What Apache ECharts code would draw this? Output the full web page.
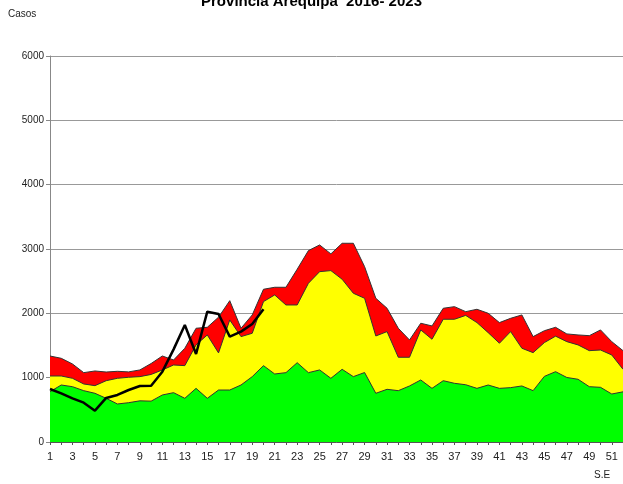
<!DOCTYPE html>
<html>
<head>
<meta charset="utf-8">
<script src="https://cdn.jsdelivr.net/npm/echarts@6/dist/echarts.min.js"></script>
<style>
  html, body { margin: 0; padding: 0; background: #fff; }
  #chart { width: 623px; height: 484px; }
</style>
</head>
<body>
<div id="chart"></div>
<script>
// semanas epidemiologicas
const semanas = ['1','2','3','4','5','6','7','8','9','10','11','12','13','14','15','16','17','18','19','20',
  '21','22','23','24','25','26','27','28','29','30','31','32','33','34','35','36','37','38','39','40',
  '41','42','43','44','45','46','47','48','49','50','51','52']

// zona de alarma (limite superior)
const alarma = [1337, 1301, 1213, 1078, 1104, 1088, 1099, 1090, 1120, 1220, 1337, 1275, 1457, 1768, 1783, 1940, 2197, 1768, 1975, 2374,
  2405, 2405, 2685, 2975, 3063, 2924, 3089, 3089, 2726, 2234, 2079, 1768, 1586, 1846, 1804, 2079, 2104, 2026, 2063, 2001,
  1856, 1923, 1975, 1638, 1730, 1783, 1680, 1664, 1653, 1742, 1560, 1420]

// zona de seguridad
const seguridad = [1026, 1026, 990, 902, 876, 953, 990, 1006, 1016, 1050, 1120, 1197, 1187, 1509, 1664, 1385, 1897, 1638, 1690, 2182,
  2286, 2130, 2130, 2467, 2648, 2664, 2530, 2312, 2234, 1648, 1716, 1317, 1317, 1742, 1597, 1908, 1908, 1968, 1856, 1700,
  1535, 1716, 1457, 1389, 1545, 1645, 1560, 1509, 1420, 1430, 1353, 1130]

// zona de exito
const exito = [782, 886, 860, 798, 757, 679, 591, 611, 640, 635, 731, 767, 679, 834, 679, 808, 808, 886, 1016, 1187,
  1057, 1078, 1233, 1078, 1120, 990, 1130, 1016, 1080, 757, 819, 798, 871, 964, 834, 953, 912, 890, 834, 886,
  834, 845, 871, 798, 1020, 1093, 1003, 975, 860, 850, 746, 780]

// casos 2023
const casos2023 = [824, 757, 679, 611, 487, 685, 731, 808, 870, 875, 1093, 1440, 1819, 1368, 2026, 1990, 1638, 1716, 1835, 2063]

const yTicks = { min: 0, max: 6000, interval: 1000 }

const fuente = "'Liberation Sans Narrow', 'Liberation Sans', Arial, sans-serif"

const chart = echarts.init(document.getElementById('chart'))

const area = (name, data, color) => ({
  name,
  type: 'line',
  data,
  symbol: 'none',
  silent: true,
  lineStyle: { color: '#333', width: 1 },
  areaStyle: { color, opacity: 1, origin: 'start' }
})

chart.setOption({
  animation: false,
  backgroundColor: '#fff',
  title: {
    text: 'Provincia Arequipa  2016- 2023',
    left: 'center',
    top: -11,
    textStyle: { fontFamily: fuente, fontWeight: 'bold', fontSize: 15, color: '#000' }
  },
  graphic: [
    {
      type: 'text', left: 8, top: 9,
      style: { text: 'Casos', font: '10px ' + fuente, fill: '#222' }
    },
    {
      type: 'text', left: 594, top: 470,
      style: { text: 'S.E', font: '10px ' + fuente, fill: '#222' }
    }
  ],
  grid: { left: 50, right: -5, top: 56, bottom: 42 },
  xAxis: {
    type: 'category',
    data: semanas,
    boundaryGap: false,
    axisLine: { lineStyle: { color: '#555', width: 1 } },
    axisTick: { show: true, interval: 0, length: 3, lineStyle: { color: '#555' } },
    axisLabel: { interval: 1, color: '#222', fontFamily: fuente, fontSize: 11, margin: 9 },
    splitLine: { show: false }
  },
  yAxis: {
    type: 'value',
    min: yTicks.min,
    max: yTicks.max,
    interval: yTicks.interval,
    axisLine: { show: true, lineStyle: { color: '#888' } },
    axisTick: { show: true, length: 4, lineStyle: { color: '#888' } },
    axisLabel: { color: '#222', fontFamily: fuente, fontSize: 10, margin: 6, formatter: v => String(v) },
    splitLine: { show: true, lineStyle: { color: '#999', width: 1 } }
  },
  series: [
    area('Alarma', alarma, '#ff0000'),
    area('Seguridad', seguridad, '#ffff00'),
    area('Exito', exito, '#00ff00'),
    {
      name: '2023',
      type: 'line',
      data: casos2023,
      symbol: 'none',
      silent: true,
      z: 5,
      lineStyle: { color: '#000', width: 2.5 }
    }
  ]
})
</script>
</body>
</html>
